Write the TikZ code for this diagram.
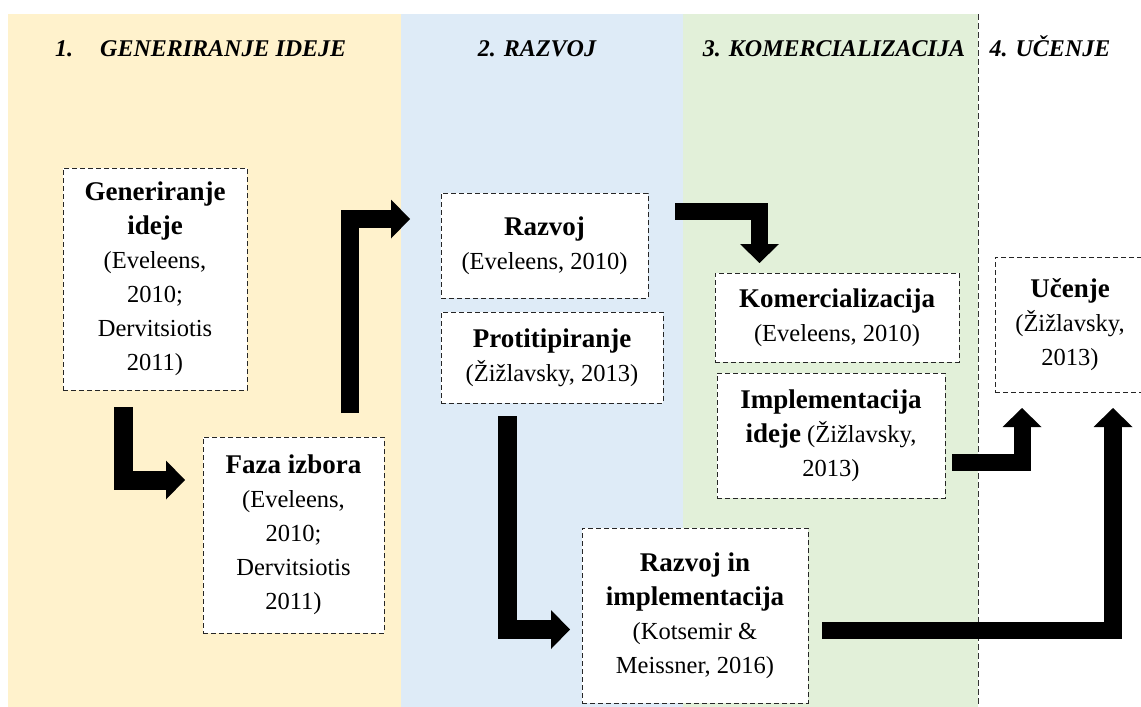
\documentclass[tikz,border=0pt]{standalone}
\usepackage{fontspec}
\setmainfont{Liberation Serif}
\usetikzlibrary{arrows.meta}
\definecolor{bgorange}{HTML}{FFF2CC}
\definecolor{bgblue}{HTML}{DEEBF7}
\definecolor{bggreen}{HTML}{E2F0D9}
\newcommand\regfont{\fontsize{24.5}{34}\selectfont}
\newcommand\myb[1]{{\fontsize{27}{34}\selectfont\bfseries #1}}
\newcommand\phasefont{\fontsize{24}{28}\selectfont\bfseries\itshape}
\begin{document}
\begin{tikzpicture}[x=1pt,y=-1pt,
  stagebox/.style={draw=black!85, line width=0.9pt, dash pattern=on 5pt off 3pt, fill=white, inner sep=0pt, align=center, font=\regfont},
  bigarrow/.style={line width=18pt, line join=miter, -{Triangle[width=39pt,length=19pt,line width=0pt]}},
  phasetitle/.style={font=\phasefont, anchor=base, inner sep=0pt},
  divider/.style={draw=black!80, line width=0.9pt, dash pattern=on 6pt off 3pt}]
\clip (0,0) rectangle (1141,707);
\fill[white] (0,0) rectangle (1141,707);
% phase backgrounds
\fill[bgorange] (8,14) rectangle (401,707);
\fill[bgblue] (401,14) rectangle (683,707);
\fill[bggreen] (683,14) rectangle (978,707);
\draw[divider] (978,14) -- (978,707);
% phase titles
\node[phasetitle, anchor=base west] (t1) at (55,56) {\makebox[45pt][l]{1.}GENERIRANJE IDEJE};
\node[phasetitle] (t2) at (537,56) {2. RAZVOJ};
\node[phasetitle] (t3) at (834,56) {3. KOMERCIALIZACIJA};
\node[phasetitle] (t4) at (1050,56) {4. UČENJE};
% boxes
\node[stagebox, minimum width=184pt, minimum height=222pt] (gen) at (155,279)
  {\myb{Generiranje}\\\myb{ideje}\\(Eveleens,\\2010;\\Dervitsiotis\\2011)};
\node[stagebox, minimum width=181pt, minimum height=196pt] (faza) at (293.5,535)
  {\myb{Faza izbora}\\(Eveleens,\\2010;\\Dervitsiotis\\2011)};
\node[stagebox, minimum width=207pt, minimum height=105pt] (razvoj) at (544.5,245.5)
  {\myb{Razvoj}\\(Eveleens, 2010)};
\node[stagebox, minimum width=222pt, minimum height=91pt] (proto) at (552,357.5)
  {\myb{Protitipiranje}\\(Žižlavsky, 2013)};
\node[stagebox, minimum width=244pt, minimum height=89pt] (komerc) at (837,317.5)
  {\myb{Komercializacija}\\(Eveleens, 2010)};
\node[stagebox, minimum width=228pt, minimum height=125pt] (impl) at (831,435.5)
  {\myb{Implementacija}\\\myb{ideje} (Žižlavsky,\\2013)};
\node[stagebox, minimum width=150pt, minimum height=135pt] (ucenje) at (1070,324.5)
  {\myb{Učenje}\\(Žižlavsky,\\2013)};
\node[stagebox, minimum width=226pt, minimum height=175pt] (razimpl) at (695,615.5)
  {\myb{Razvoj in}\\\myb{implementacija}\\(Kotsemir \&\\Meissner, 2016)};
% arrow ends
\coordinate (aAs) at (123,407);   \coordinate (aAe) at (185,480);
\coordinate (aBs) at (350,413);   \coordinate (aBe) at (410,219);
\coordinate (aCs) at (675,211.5); \coordinate (aCe) at (759.5,263);
\coordinate (aDs) at (507.5,416); \coordinate (aDe) at (570,629.5);
\coordinate (aEs) at (952,462.5); \coordinate (aEe) at (1022,408);
\coordinate (aFs) at (822,630.5); \coordinate (aFe) at (1113,408);
% arrows
\draw[bigarrow, line width=19pt] (aAs) |- (aAe);
\draw[bigarrow] (aBs) |- (aBe);
\draw[bigarrow, line width=17pt] (aCs) -| (aCe);
\draw[bigarrow, line width=19pt] (aDs) |- (aDe);
\draw[bigarrow, line width=17pt] (aEs) -| (aEe);
\draw[bigarrow, line width=17.5pt] (aFs) -| (aFe);
\end{tikzpicture}
\end{document}
